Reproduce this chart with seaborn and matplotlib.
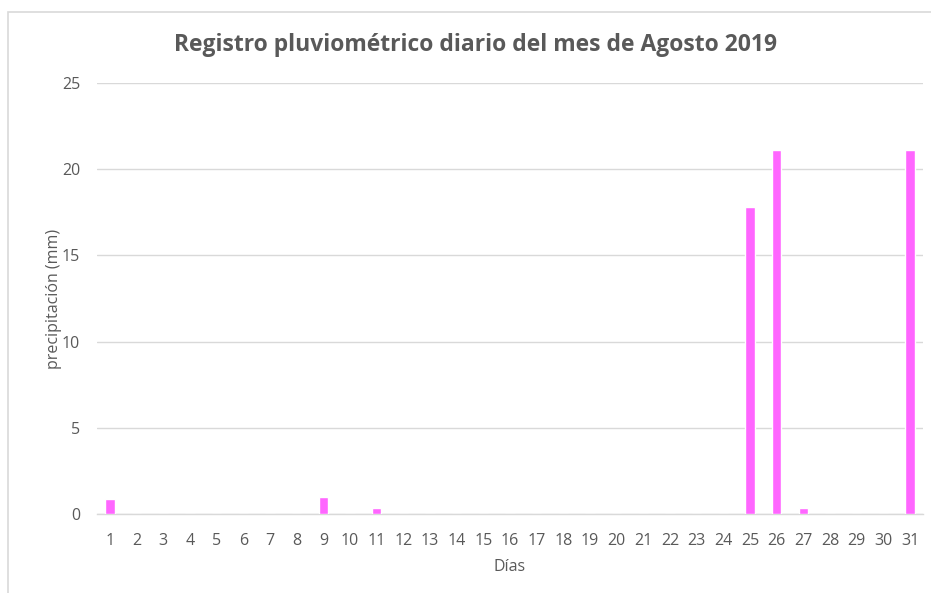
import matplotlib
matplotlib.use("Agg")
import matplotlib.pyplot as plt
import seaborn as sns
import pandas as pd
from matplotlib.patches import Rectangle

days = list(range(1, 32))
precip = [0.85, 0, 0, 0, 0, 0, 0, 0, 1.0, 0, 0.35, 0, 0, 0, 0, 0, 0, 0, 0, 0,
          0, 0, 0, 0, 17.8, 21.1, 0.35, 0, 0, 0, 21.1]
yticks = [0, 5, 10, 15, 20, 25]

sns.set_theme(style="white")
plt.rcParams['font.family'] = ['Open Sans', 'DejaVu Sans']

df = pd.DataFrame({"Días": [str(d) for d in days], "precip": precip})

fig = plt.figure(figsize=(9.31, 5.93), dpi=100)
ax = fig.add_axes([96.7/931, 1-514/593, (923.3-96.7)/931, (514-83)/593])
sns.barplot(data=df, x="Días", y="precip", color="#FF66FF", saturation=1,
            width=0.35, ax=ax, zorder=3)

ax.set_ylim(0, 25)
ax.set_xlim(-0.5, 30.5)
ax.set_yticks(yticks)
ax.yaxis.grid(True, color="#D9D9D9", linewidth=1, zorder=0)
ax.set_axisbelow(True)
for s in ["top", "right", "left"]:
    ax.spines[s].set_visible(False)
ax.spines["bottom"].set_color("#D9D9D9")
ax.spines["bottom"].set_linewidth(1)
ax.tick_params(axis="both", length=0, colors="#595959", labelsize=11.5)
ax.tick_params(axis="x", pad=14)
ax.tick_params(axis="y", pad=12)
ax.set_xlabel("Días", color="#595959", fontsize=11.5, labelpad=7)
ax.set_ylabel("precipitación (mm)", color="#595959", fontsize=11.5, labelpad=0)

fig.text(476/931, 1-45/593, "Registro pluviométrico diario del mes de Agosto 2019",
         ha="center", va="center", fontsize=16.5, fontweight="bold", color="#595959")

fig.patches.append(Rectangle((8/931, -0.01), 1.0, 1 - 12/593 + 0.01, transform=fig.transFigure,
                             fill=False, edgecolor="#D9D9D9", linewidth=1.2))

fig.savefig("out.png", dpi=100)
